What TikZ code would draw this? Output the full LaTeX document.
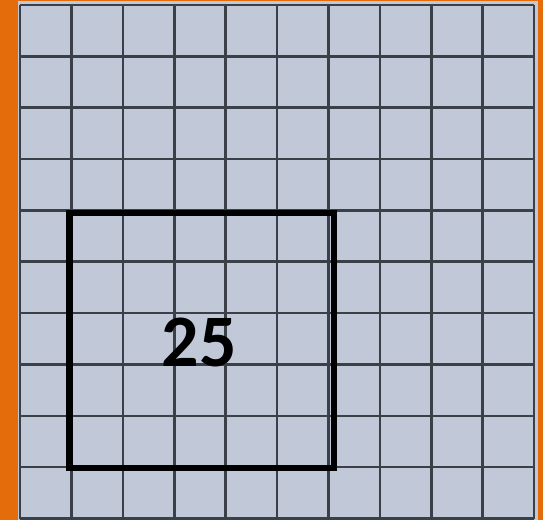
\documentclass[tikz,border=0pt]{standalone}
\usepackage{fontspec}
\setmainfont{Carlito}
\definecolor{frameorange}{HTML}{E46C0A}
\definecolor{cellfill}{HTML}{C1C8D8}
\definecolor{gridline}{HTML}{3B3F47}
\begin{document}
\begin{tikzpicture}[
  x=1pt, y=1pt,
  cellgrid/.style={draw=gridline, line width=2.6pt},
  area/.style={draw=black, line width=6.5pt, minimum width=264.5pt, minimum height=255pt, inner sep=0pt},
  count/.style={font=\fontsize{74}{80}\selectfont\bfseries, inner sep=0pt}
]
\fill[frameorange] (0,0) rectangle (543,520);
\useasboundingbox (0,0) rectangle (543,520);
\fill[cellfill] (18,0) rectangle (537.5,518.5);

\foreach \i in {0,...,10} {
  \draw[cellgrid] (20+51.4*\i,1.5) -- (20+51.4*\i,515);
  \draw[cellgrid] (20,1.5+51.35*\i) -- (534,1.5+51.35*\i);
}

\node[area] (square) at (201.75,179.5) {};
\node[count] (label) at (199,177.5) {25};
\end{tikzpicture}
\end{document}
